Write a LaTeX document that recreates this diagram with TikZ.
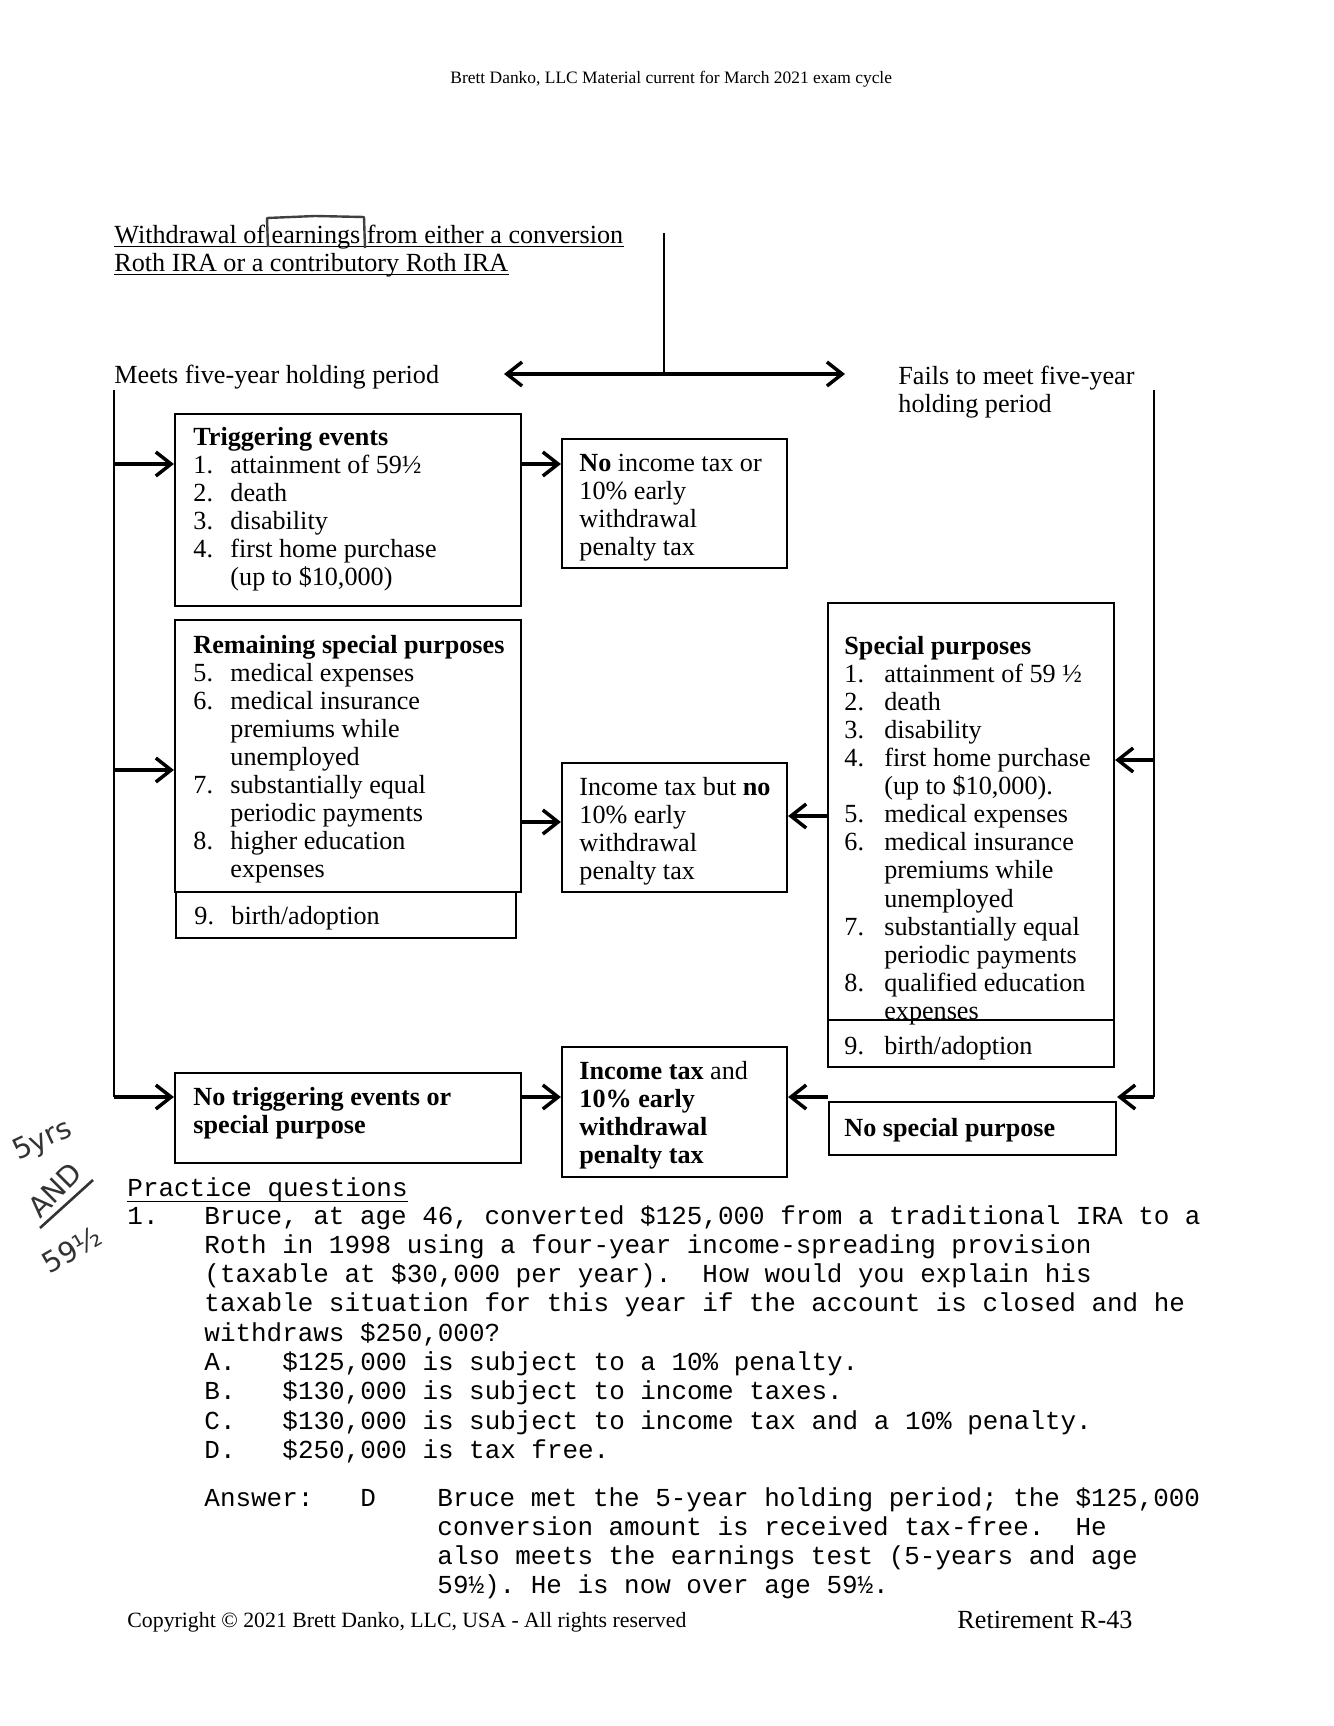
\documentclass[tikz,border=0pt]{standalone}
\usepackage{fontspec}
\setmainfont{Liberation Serif}
\setmonofont{Liberation Mono}
\newfontfamily\handfont{DejaVu Sans}
\usetikzlibrary{arrows.meta,fit,calc}
\frenchspacing
\newcommand\nitA[2]{\makebox[17pt][l]{#1}#2}
\newcommand\ncA[1]{\hspace*{17pt}#1}
\newcommand\nitB[2]{\makebox[18.3pt][l]{#1}#2}
\newcommand\ncB[1]{\hspace*{18.3pt}#1}
\newcommand\opt[2]{\makebox[35.8pt][l]{#1}#2}
\newcommand\blines[1]{\begin{tabular}[t]{@{}l@{}}#1\end{tabular}}
\tikzset{
  box/.style={draw, line width=1pt, inner sep=0pt},
  txt/.style={inner sep=0pt, anchor=base west, font=\fontsize{12}{12.9}\selectfont},
  mono/.style={inner sep=0pt, anchor=base west, font=\fontsize{11.9}{13.45}\selectfont\ttfamily},
  arr/.style={line width=1.6pt, -{Straight Barb[length=7pt,width=11pt]}},
  vline/.style={line width=1.2pt},
  uline/.style={line width=0.7pt},
  hand/.style={inner sep=0pt, text=black!80, font=\handfont\fontsize{13}{13}\selectfont},
}
\begin{document}
\begin{tikzpicture}[x=0.45877pt, y=-0.45877pt]
\useasboundingbox (0,0) rectangle (1334,1726);
% header
\node[txt, font=\fontsize{8}{9}\selectfont] (hdr) at (450,83) {Brett Danko, LLC Material current for March 2021 exam cycle};
% title
\node[txt] (ti1) at (114,243) {Withdrawal of earnings from either a conversion};
\node[txt] (ti2) at (114,271) {Roth IRA or a contributory Roth IRA};
\draw[uline] ([yshift=-1.5pt]ti1.base west) -- ([yshift=-1.5pt]ti1.base east);
\draw[uline] ([yshift=-1.5pt]ti2.base west) -- ([yshift=-1.5pt]ti2.base east);
\draw[line width=1.1pt, draw=black!75, line join=round] (268,247) -- (267,218) -- (315,216) -- (364,217) -- (365,248);
% split
\coordinate (vtop) at (664,233);
\coordinate (vmid) at (664,374);
\coordinate (aL) at (504,374);
\coordinate (aR) at (845,374);
\draw[vline] (vtop) -- (vmid);
\draw[arr] (vmid) -- (aL);
\draw[arr] (vmid) -- (aR);
\node[txt] (meets) at (114,383) {Meets five-year holding period};
\node[txt] (fails) at (898,384) {\blines{Fails to meet five-year\\ holding period}};
% boxes
\node[box, fit={(175,414) (521,606)}] (trig) {};
\node[box, fit={(562,439) (787,568)}] (noinc) {};
\node[box, fit={(175,620) (521,892)}] (rem) {};
\node[box, fit={(176,892) (516,938)}] (rem9) {};
\node[box, fit={(562,763) (787,892)}] (incA) {};
\node[box, fit={(828,603) (1114,1020)}] (spec) {};
\node[box, fit={(828,1020) (1114,1067)}] (spec9) {};
\node[box, fit={(175,1073) (521,1163)}] (notrig) {};
\node[box, fit={(562,1047) (787,1177)}] (incB) {};
\node[box, fit={(829,1102) (1116,1155)}] (nsp) {};
% box texts
\node[txt] (trigT) at (193,445) {\blines{\textbf{Triggering events}\\ \nitA{1.}{attainment of 59½}\\ \nitA{2.}{death}\\ \nitA{3.}{disability}\\ \nitA{4.}{first home purchase}\\ \ncA{(up to \$10,000)}}};
\node[txt] (noincT) at (579,471) {\blines{\textbf{No} income tax or\\ 10\% early\\ withdrawal\\ penalty tax}};
\node[txt] (remT) at (193,653) {\blines{\textbf{Remaining special purposes}\\ \nitA{5.}{medical expenses}\\ \nitA{6.}{medical insurance}\\ \ncA{premiums while}\\ \ncA{unemployed}\\ \nitA{7.}{substantially equal}\\ \ncA{periodic payments}\\ \nitA{8.}{higher education}\\ \ncA{expenses}}};
\node[txt] (rem9T) at (194,924) {\nitA{9.}{birth/adoption}};
\node[txt] (incAT) at (579,795) {\blines{Income tax but \textbf{no}\\ 10\% early\\ withdrawal\\ penalty tax}};
\node[txt] (specT) at (844,654) {\blines{\textbf{Special purposes}\\ \nitB{1.}{attainment of 59 ½}\\ \nitB{2.}{death}\\ \nitB{3.}{disability}\\ \nitB{4.}{first home purchase}\\ \ncB{(up to \$10,000).}\\ \nitB{5.}{medical expenses}\\ \nitB{6.}{medical insurance}\\ \ncB{premiums while}\\ \ncB{unemployed}\\ \nitB{7.}{substantially equal}\\ \ncB{periodic payments}\\ \nitB{8.}{qualified education}\\ \ncB{expenses}}};
\node[txt] (spec9T) at (844,1054) {\nitB{9.}{birth/adoption}};
\node[txt] (notrigT) at (193,1105) {\blines{\textbf{No triggering events or}\\ \textbf{special purpose}}};
\node[txt] (incBT) at (579,1079) {\blines{\textbf{Income tax} and\\ \textbf{10\% early}\\ \textbf{withdrawal}\\ \textbf{penalty tax}}};
\node[txt] (nspT) at (844,1136) {\textbf{No special purpose}};
% side lines
\coordinate (lt) at (114,390);
\coordinate (lb) at (114,1097);
\coordinate (rt) at (1154,390);
\coordinate (rb) at (1154,1097);
\draw[vline] (lt) -- (lb);
\draw[vline] (rt) -- (rb);
\coordinate (l1) at (114,464);
\coordinate (l2) at (114,770);
\coordinate (r1) at (1154,760);
\draw[arr] (l1) -- (l1 -| trig.west);
\draw[arr] (l2) -- (l2 -| rem.west);
\draw[arr] (lb) -- (lb -| notrig.west);
\draw[arr] (r1) -- (r1 -| spec.east);
\draw[arr] (rb) -- (rb -| nsp.east);
% middle arrows
\coordinate (m1) at (0,464);
\coordinate (m2) at (0,822);
\coordinate (m3) at (0,816);
\coordinate (m4) at (0,1097);
\draw[arr] (trig.east |- m1) -- (noinc.west |- m1);
\draw[arr] (rem.east |- m2) -- (incA.west |- m2);
\draw[arr] (spec.west |- m3) -- (incA.east |- m3);
\draw[arr] (notrig.east |- m4) -- (incB.west |- m4);
\draw[arr] (nsp.west |- m4) -- (incB.east |- m4);
% practice questions
\node[mono] (pq) at (127,1196) {Practice questions};
\draw[uline] ([yshift=-2.5pt]pq.base west) -- ([yshift=-2.5pt]pq.base east);
\node[mono] (q1n) at (127,1224) {1.};
\node[mono] (q1) at (204,1224) {\blines{Bruce, at age 46, converted \$125,000 from a traditional IRA to a\\ Roth in 1998 using a four-year income-spreading provision\\ (taxable at \$30,000 per year).\ \ How would you explain his\\ taxable situation for this year if the account is closed and he\\ withdraws \$250,000?\\ \opt{A.}{\$125,000 is subject to a 10\% penalty.}\\ \opt{B.}{\$130,000 is subject to income taxes.}\\ \opt{C.}{\$130,000 is subject to income tax and a 10\% penalty.}\\ \opt{D.}{\$250,000 is tax free.}}};
\node[mono] (ans) at (204,1506) {Answer:};
\node[mono] (ansD) at (360,1506) {D};
\node[mono] (ansT) at (437,1506) {\blines{Bruce met the 5-year holding period; the \$125,000\\ conversion amount is received tax-free.\ \ He\\ also meets the earnings test (5-years and age\\ 59½). He is now over age 59½.}};
% footer
\node[txt, font=\fontsize{10}{11}\selectfont] (copy) at (127,1627) {Copyright © 2021 Brett Danko, LLC, USA - All rights reserved};
\node[txt] (page) at (957,1628) {Retirement R-43};
% handwritten note
\node[hand, rotate=25] (h1) at (43,1141) {5yrs};
\node[hand, rotate=45] (h2) at (55,1190) {AND};
\draw[line width=1.2pt, black!80] (40,1228) -- (93,1180);
\node[hand, rotate=30] (h3) at (72,1250) {59½};
\end{tikzpicture}
\end{document}
